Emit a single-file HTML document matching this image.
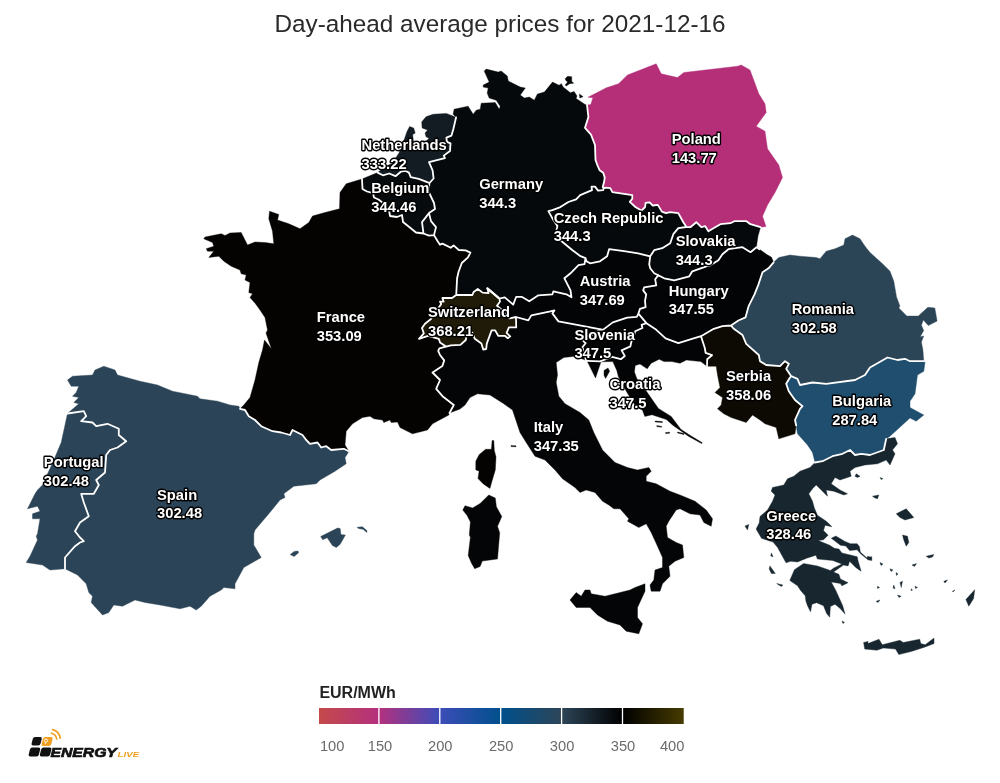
<!DOCTYPE html>
<html><head><meta charset="utf-8"><title>Day-ahead average prices</title>
<style>
html,body{margin:0;padding:0;background:#fff}
body{width:1000px;height:783px;position:relative;overflow:hidden;font-family:"Liberation Sans",sans-serif}
svg{position:absolute;left:0;top:0}
.lab text{font-family:"Liberation Sans",sans-serif;font-weight:700;font-size:14.75px;fill:#fff;stroke:#000;stroke-width:2.8px;paint-order:stroke;stroke-linejoin:round}
.title{will-change:transform;position:absolute;left:0;top:9.6px;width:1000px;text-align:center;font-size:24.3px;line-height:28px;color:#2a2a2a}
.tk text{font-family:"Liberation Sans",sans-serif;font-size:14.7px;fill:#6b6b6b}
</style></head><body>
<div class="title">Day-ahead average prices for 2021-12-16</div>
<svg width="1000" height="783" viewBox="0 0 1000 783">
<defs>
<linearGradient id="g1"><stop offset="0" stop-color="#c44a4a"/><stop offset="1" stop-color="#b4307e"/></linearGradient>
<linearGradient id="g2"><stop offset="0" stop-color="#b4307e"/><stop offset="1" stop-color="#3c4db8"/></linearGradient>
<linearGradient id="g3"><stop offset="0" stop-color="#3c4db8"/><stop offset="1" stop-color="#00508c"/></linearGradient>
<linearGradient id="g4"><stop offset="0" stop-color="#00508c"/><stop offset="1" stop-color="#2d4558"/></linearGradient>
<linearGradient id="g5"><stop offset="0" stop-color="#2d4558"/><stop offset="1" stop-color="#000"/></linearGradient>
<linearGradient id="g6"><stop offset="0" stop-color="#000"/><stop offset="1" stop-color="#463b00"/></linearGradient>
</defs>
<g id="map">
<path fill="#2b4457" stroke="#2b4457" stroke-width="0.4" d="M67.5 380L72.5 376.2L92.5 375L95 370L103.8 366.2L115 370L117.5 375L140 381.2L157.5 385L172.5 391.2L197.5 396.2L200 398.8L217.5 401.2L230 405L238.8 406.2L240 408.8L245 410L248.8 416.2L255 420L261.2 426.2L272.5 431.2L281.2 432.5L290 435L292.5 430L302.5 435L306.2 440L310 443.8L317.5 442.5L321.2 447.5L326.2 446.2L331.2 450L343.8 448.8L348.8 451.2L347.5 453.8L345 457.5L346.2 463.8L335 471.2L320 480L316.2 483.8L293.8 486.2L283.8 493.8L285 497.5L280 500L268.8 513.8L255 530L253.8 533.8L253.8 545L261.2 557.5L252.5 562.5L243.8 567.5L235 583.8L235 588.8L223.8 587.5L221.2 590L210 596.2L201.2 606.2L196.2 610L190 606.2L180 608.8L160 605L145 602.5L135 600L122.5 606.2L113.8 605L108.8 612.5L102.5 615L91.2 602.5L92.5 596.2L88.8 592.5L86.2 583.8L77.5 575L65 568.8L65 557.5L75 546.2L80 542.5L83.8 541.2L80 537.5L75 531.2L80 522.5L88.8 516.2L83.8 502.5L81.2 493.8L93.8 493.8L98.8 485L96.2 480L105 472.5L106.2 455L110 450L117.5 447.5L126.2 441.2L118.8 435L118.8 428.8L107.5 423.8L96.2 426.2L92.5 422.5L81.2 421.2L86.2 416.2L83.8 411.2L67.5 413.5L78.8 403.8L73.8 402.5L78.8 397.5L72.5 396.2L76.2 392.5L78.8 386.2L71.2 386.2L67.5 380ZM320.7 536.4L337.6 528L340.2 528.6L340.9 534.5L345.4 535.1L340.2 544.2L336.3 547.5L332.4 545.5L327.2 537.7L322.7 539.7ZM357.1 527.3L362.3 526.7L366.9 530.6L366.9 532.5L363 529.3L358.4 528.6ZM290.2 554.6L294.1 551.4L298 551L298.6 552.7L294.1 556.6Z"/>
<path fill="#2b4457" stroke="#2b4457" stroke-width="0.4" d="M67.5 413.5L83.8 411.2L86.2 416.2L81.2 421.2L92.5 422.5L96.2 426.2L107.5 423.8L118.8 428.8L118.8 435L126.2 441.2L117.5 447.5L110 450L106.2 455L105 472.5L96.2 480L98.8 485L93.8 493.8L81.2 493.8L83.8 502.5L88.8 516.2L80 522.5L75 531.2L80 537.5L83.8 541.2L80 542.5L75 546.2L65 557.5L65 568.8L50 570L42.5 565L26.2 562.5L30 556.2L37.5 540L36.2 536.2L37.5 533.8L40 518.8L32.5 518.8L32.5 513.8L40 511.2L37.5 506.2L27.5 508.8L28.8 506.2L35 493.8L37.5 490L42.5 485L53.8 460L61.2 442.5L65 425L67.5 413.5Z"/>
<path fill="#040302" stroke="#040302" stroke-width="0.4" d="M362 179L362.5 189L367 191.5L373 193.2L374 197.5L378.5 199.5L383 203L389 210L390 216L397 217L402 215L403 222L408 226L416 232.5L423.5 233.5L429 235.7L434 235.1L437.5 241L440 244.8L442.4 243.6L450.8 247.8L453.6 245.4L458.8 250L465.6 250.4L470.4 252.6L468 257.4L461.8 263L458.5 272L457.1 278.3L456.2 295L452 298L442.4 298L443.6 301.6L440 301.6L441.2 304L431 319L425 323.8L422 328L423.8 333.4L419 338.8L428 335.8L438.8 338.8L440 342.4L446 346.6L439.4 348.4L438.2 350.8L440 355L444.2 360.4L442.4 366L432.5 372.5L440 380L436.2 388.8L442.5 396.2L453.8 405L449.5 413L448.8 415L432.5 423.8L427.5 430L412.5 433.8L400 427.5L397.5 422L391.2 422.5L390 420L383.8 422.5L382.5 420L373.8 418.8L370 416.2L362.5 417.5L352.5 423.8L346.2 431.2L345 445L348.8 451.2L343.8 448.8L331.2 450L326.2 446.2L321.2 447.5L317.5 442.5L310 443.8L306.2 440L302.5 435L292.5 430L290 435L281.2 432.5L272.5 431.2L261.2 426.2L255 420L248.8 416.2L245 410L240 408.8L243.8 405L250 397.5L255 380L258.8 362.5L262.5 350L264.5 340L271.5 349L266 333L267.5 330L265 317.5L260 310L255.5 303.8L250 297.5L252.5 293.8L248.8 292.5L250 282.5L245 280L246.2 275L241.2 273.8L240 270L231.2 266.2L223.8 261.2L218.8 256.2L208.8 257.5L213.8 251.2L207.5 251.2L206.2 248.8L213.8 246.2L212.5 242.5L203.8 238.8L205 237L221.2 233.8L225 235.5L230 233L241.2 232.5L247.5 245L255 242L265 242.5L273.8 243.8L272.5 231.2L268.8 218.8L269.5 211.2L278.8 214.5L277.5 220L288.8 223.8L300 228.8L308.8 222.5L312.5 216L325 212.5L339.5 208.8L340 192.5L346.2 183.8L362 179ZM492.1 440.6L493.8 440.6L494.3 450.4L496 456.9L495.3 469.9L492.1 480.8L489.9 488.4L483.4 484L478 478.6L479.1 471L475.8 469.9L475.8 461.2L479.1 454.7L485.6 449.3L491.4 449.3Z"/>
<path fill="#080b0d" stroke="#080b0d" stroke-width="0.4" d="M362 179L377.6 172.6L382.9 175.3L389.2 173.5L395.5 176.2L400.8 171.7L405.3 170.8L408.9 172.6L410.7 177.1L418.7 178.9L425.9 181.6L429.5 183L428.5 191.4L434 203L435 209L429 213.1L422 222.1L423.5 233.5L416 232.5L408 226L403 222L402 215L397 217L390 216L389 210L383 203L378.5 199.5L374 197.5L373 193.2L367 191.5L362.5 189L362 179Z"/>
<path fill="#0a0e11" stroke="#0a0e11" stroke-width="0.4" d="M429 213.1L431 221.1L436 227.1L434 235.1L429 235.7L423.5 233.5L422 222.1L429 213.1Z"/>
<path fill="#131c23" stroke="#131c23" stroke-width="0.4" d="M456.1 117.3L453.5 128.5L451.5 135.6L446.4 137.7L446.9 141.8L450.5 143.3L450 151L443.8 155.6L444.9 158.1L429 162.2L432.6 170.4L433.6 178.5L429.5 183L425.9 181.6L418.7 178.9L410.7 177.1L408.9 172.6L405.3 170.8L400.8 171.7L395.5 176.2L389.2 173.5L382.9 175.3L377.6 172.6L386 166L392 163.5L399 153L404.5 138.7L407 131.6L409.6 126.5L413.7 128L415.2 133.1L412.7 134.6L413.5 142L425.5 142L429 138.2L426 136.7L425 133.1L427.5 130L422.1 128L421.7 121.9L426 116.7L433.1 114.2L446.4 113.4L456.1 117.3Z"/>
<path fill="#06090b" stroke="#06090b" stroke-width="0.4" d="M456.1 117.3L453.1 114.2L454.1 109.2L468.1 106.2L473.2 114.2L476.2 110.2L480.2 109.2L481.2 103.2L495.2 102.6L499.2 109.2L500.2 106.2L496.2 100.2L489.2 98.1L487.2 93.1L488.2 88.1L483.2 87.1L483.2 85.1L489.2 82.1L484.2 71.1L486.2 69.1L498.2 72.1L501.2 71.1L507.3 76.1L508.3 81.1L520.3 87.1L525.3 88.1L520.3 95.1L524.3 98.1L529.3 97.1L534.3 100.2L537.4 94.1L544.4 92.1L552.5 82.1L559 85.3L561.4 83.7L563.1 87L570.4 92.7L574.1 91.5L577 95.9L576.1 98.4L585.1 104.5L587 105L588.4 117L585 127.8L591 134.6L595 145L595.5 160L597.6 165.6L599.6 170.2L603.2 172.8L604.7 177.4L604.2 181.5L602.7 187.1L603.7 188.5L603.2 190.1L598.1 190.6L595 186.6L591.5 186.6L592 190.1L580.2 195.2L576.1 199.3L568.4 202L560.4 207.1L552.4 210.1L548.4 211.1L553.4 220.1L557.4 226.1L556.4 230.1L560.4 240.2L572.5 250.2L580.5 256.2L585.5 258.2L584.5 264.2L578.5 265.2L570.5 273.3L564.4 278.3L570.5 290.3L571.5 297.3L566.4 294.3L553.4 291.3L552.4 294.3L538.4 295.3L529.3 301.3L521.6 296.8L516.2 296.8L513.2 304.6L504.8 297.4L499.4 298.6L487.4 288.4L488.6 293.2L482.6 292.6L477.8 289L473.6 292L472.4 295L456.2 295L457.1 278.3L458.5 272L461.8 263L468 257.4L470.4 252.6L465.6 250.4L458.8 250L453.6 245.4L450.8 247.8L442.4 243.6L440 244.8L437.5 241L434 235.1L436 227.1L431 221.1L429 213.1L435 209L434 203L428.5 191.4L429.5 183L433.6 178.5L432.6 170.4L429 162.2L444.9 158.1L443.8 155.6L450 151L450.5 143.3L446.9 141.8L446.4 137.7L451.5 135.6L453.5 128.5L456.1 117.3ZM565.1 78.8L567.6 76.3L571.7 76.7L571.7 81.2L573.7 83.3L569.6 83.7L566.3 86.1L565.1 84.9L567.6 82.1L565.9 80.4ZM579.4 93.9L583.1 96.8L579.8 98Z"/>
<path fill="#b42e78" stroke="#b42e78" stroke-width="0.4" d="M760.5 227.2L766 226.5L762.5 216.2L767.5 205L775 192.5L782.5 177.5L778.8 165L767.5 148.8L765 131.2L756.2 126.2L766.2 112.5L765 103.8L758.8 93.8L750 70L741.2 65L737.5 66.2L683.8 72.5L677.5 77.5L661.2 73.8L656.2 63.8L627.5 75L618.6 83.7L606.4 87.8L588 97.2L592.9 97.7L590.8 104.5L587 105L588.4 117L585 127.8L591 134.6L595 145L595.5 160L597.6 165.6L599.6 170.2L603.2 172.8L604.7 177.4L604.2 181.5L602.7 187.1L603.7 188.5L605.2 187.6L610.3 188.1L612.4 192.2L632.3 195.2L632.3 198.8L629.8 201.9L635.4 207L641.5 210.6L645.1 207L645.6 202.9L649.7 202.4L652.7 205.5L657.8 204.9L661.9 211.6L666 213.1L670 212.1L678.3 213.1L683.3 222.2L686.5 227L690.3 227.2L696.3 222.2L701.3 227.2L705.3 226.2L708.4 231.2L713.4 228.2L720.4 224.2L730.4 223.2L734.4 221.2L746.5 221.2L750.5 224.2L760.5 227.2Z"/>
<path fill="#201b08" stroke="#201b08" stroke-width="0.4" d="M456.2 295L472.4 295L473.6 292L477.8 289L482.6 292.6L488.6 293.2L487.4 288.4L499.4 298.6L500 301.6L497 305.8L503 311L509.6 318.4L516 317L516.2 327.4L509 327.4L506.6 332.8L510.2 336.4L507.8 338.2L504.8 335.8L498.2 335.8L495.2 330.4L491.6 330.4L486.8 343.6L486.2 349L483.2 349.6L481.4 343.6L474.8 338.8L472.4 332.8L466.4 336.4L465.8 340L460.4 344.8L450.8 345.4L446 346.6L440 342.4L438.8 338.8L428 335.8L419 338.8L423.8 333.4L422 328L425 323.8L431 319L441.2 304L440 301.6L443.6 301.6L442.4 298L452 298L456.2 295Z"/>
<path fill="#030405" stroke="#030405" stroke-width="0.4" d="M499.4 298.6L504.8 297.4L513.2 304.6L516.2 296.8L521.6 296.8L529.3 301.3L538.4 295.3L552.4 294.3L553.4 291.3L566.4 294.3L571.5 297.3L570.5 290.3L564.4 278.3L570.5 273.3L578.5 265.2L584.5 264.2L585.5 258.2L586.5 261.2L590 263.3L600 261.3L607.1 256.3L609.1 249.2L624.1 251.2L638.1 253.3L650.2 256.3L649.2 264.3L650.2 268.3L654.2 273.3L658.2 275.3L655.2 279.3L656.2 285.3L644.2 287.3L643.2 290.4L646.2 294.4L645 301L645.6 307.2L640 308.8L638.4 313.6L636.8 316.8L627.2 317.6L612.8 322.4L603.2 329.6L600.8 329.3L574.5 324.4L558.4 321.4L552.4 313.4L554.4 310.4L550.4 311.4L531.3 315.4L528.3 320.4L516 317L509.6 318.4L503 311L497 305.8L500 301.6L499.4 298.6Z"/>
<path fill="#06090b" stroke="#06090b" stroke-width="0.4" d="M603.7 188.5L605.2 187.6L610.3 188.1L612.4 192.2L632.3 195.2L632.3 198.8L629.8 201.9L635.4 207L641.5 210.6L645.1 207L645.6 202.9L649.7 202.4L652.7 205.5L657.8 204.9L661.9 211.6L666 213.1L670 212.1L678.3 213.1L683.3 222.2L686.5 227L678.3 228.2L673.3 234.2L670.2 243.2L662.2 248.2L654.2 250.2L650.2 256.3L638.1 253.3L624.1 251.2L609.1 249.2L607.1 256.3L600 261.3L590 263.3L586.5 261.2L585.5 258.2L580.5 256.2L572.5 250.2L560.4 240.2L556.4 230.1L557.4 226.1L553.4 220.1L548.4 211.1L552.4 210.1L560.4 207.1L568.4 202L576.1 199.3L580.2 195.2L592 190.1L591.5 186.6L595 186.6L598.1 190.6L603.2 190.1L603.7 188.5Z"/>
<path fill="#06090b" stroke="#06090b" stroke-width="0.4" d="M686.5 227L690.3 227.2L696.3 222.2L701.3 227.2L705.3 226.2L708.4 231.2L713.4 228.2L720.4 224.2L730.4 223.2L734.4 221.2L746.5 221.2L750.5 224.2L760.5 227.2L758 236L756.5 246.2L759.5 249.2L756.5 247.2L750.5 252.2L742.5 247.2L728.4 249.2L722.4 254.3L718.4 260.3L710.4 265.3L706.3 266.3L692.3 271.3L689.3 276.3L674.3 280.3L664.2 278.3L658.2 275.3L654.2 273.3L650.2 268.3L649.2 264.3L650.2 256.3L654.2 250.2L662.2 248.2L670.2 243.2L673.3 234.2L678.3 228.2L686.5 227Z"/>
<path fill="#030405" stroke="#030405" stroke-width="0.4" d="M658.2 275.3L664.2 278.3L674.3 280.3L689.3 276.3L692.3 271.3L706.3 266.3L710.4 265.3L718.4 260.3L722.4 254.3L728.4 249.2L742.5 247.2L750.5 252.2L756.5 247.2L759.5 249.2L766.5 254.3L771.5 257.3L773.6 262.3L768.5 268.3L762.5 272.3L758.5 284.3L754.5 294.4L748.5 306.4L745.5 317.4L738.4 320.5L731 325.5L722.5 326.2L713.8 328.8L701 336.2L691.2 339.2L678.4 343.2L665.6 338.4L656 329.6L646.4 323.2L638.4 313.6L640 308.8L645.6 307.2L645 301L646.2 294.4L643.2 290.4L644.2 287.3L656.2 285.3L655.2 279.3L658.2 275.3Z"/>
<path fill="#030405" stroke="#030405" stroke-width="0.4" d="M600.8 329.3L603.2 329.6L612.8 322.4L627.2 317.6L636.8 316.8L638.4 313.6L646.4 323.2L641.6 324.8L642.4 328L635.2 331.2L634.4 334.4L631.2 342.4L630.4 346.4L621.6 350.4L624.8 356L620.8 359.2L612 356.8L600 361.3L587 360.8L586 360.3L584 352.8L582.4 347.2L585.6 343.2L583.2 340.8L592 335L600.8 329.3Z"/>
<path fill="#030405" stroke="#030405" stroke-width="0.4" d="M646.4 323.2L656 329.6L665.6 338.4L678.4 343.2L691.2 339.2L701 336.2L704.8 348L705.6 352.8L712 355.2L707.2 359.2L707 366.3L700.8 361.6L686.4 360L680 363.2L672 361.6L664 361.6L659.2 359.2L651.2 363.2L647.2 368.8L640 364L635.2 365.6L634.4 372L636.8 378.4L646.4 391.2L658.4 408.4L671.2 416.4L680.8 429.2L690.4 435.6L702.4 442.8L701.6 443.6L688.8 436.4L672.8 425.2L666.4 419.6L652 414.8L644.8 416.4L642.4 410L636 406.8L627.2 392.8L618.4 376.8L616.8 370.4L612.8 361.6L601 361.8L595.5 377.9L587 360.8L600 361.3L612 356.8L620.8 359.2L624.8 356L621.6 350.4L630.4 346.4L631.2 342.4L634.4 334.4L635.2 331.2L642.4 328L641.6 324.8L646.4 323.2ZM604 370.4L608 368L609.6 371.2L605.6 378.4L604 375.2ZM655.2 421L662.4 421.6L662.4 422.6L655.2 422ZM656.8 425.6L661.6 426.4L661.6 427.2L656.8 426.6ZM665.6 432.6L669.6 432.2L669.6 433.2L665.6 433.6ZM677.6 432L684 433.6L684 434.6L677.6 433Z"/>
<path fill="#040506" stroke="#040506" stroke-width="0.4" d="M449.5 413L460 409L465 405L470 397.5L477.5 393.8L490 395L503.8 403.8L512.5 410L515 417.5L520 432.5L526.2 442.5L535 456.2L545 460L555 470L562.5 478.8L575 487.5L580 492.5L586.2 490L595 492.5L602.5 501.2L608.8 505L613.8 508.8L620 508.8L628.8 518.8L627.5 521.2L638.8 527.5L646.2 523.8L651.2 532.5L657.5 546.2L662.5 557.5L662.5 567.5L655 570L653.8 580L650 585L651.2 591.2L660 591.2L662.5 583.8L670 576.2L668.8 566.2L675 561.2L683.8 557.5L682.5 545L676.2 542.5L667.5 537.5L666.2 526.2L668.8 521.2L676.2 510L680 508.8L690 513.8L700 515L703.8 522.5L711.2 526.2L712.5 518.8L706.2 510L695 501.2L680 495L670 491.2L656.2 483.8L646.2 481.2L646.2 476.2L651.2 471.2L648.8 467.5L637.5 470L627.5 467.5L615 462.5L602.5 450L593.8 432.5L588.8 420L580 412.5L565 403.8L558.8 396.2L556.2 382.5L557.5 375L556.2 362.5L563.8 357.5L575 356.2L586 360.3L584 352.8L582.4 347.2L585.6 343.2L583.2 340.8L592 335L600.8 329.3L574.5 324.4L558.4 321.4L552.4 313.4L554.4 310.4L550.4 311.4L531.3 315.4L528.3 320.4L516 317L516.2 327.4L509 327.4L506.6 332.8L510.2 336.4L507.8 338.2L504.8 335.8L498.2 335.8L495.2 330.4L491.6 330.4L486.8 343.6L486.2 349L483.2 349.6L481.4 343.6L474.8 338.8L472.4 332.8L466.4 336.4L465.8 340L460.4 344.8L450.8 345.4L446 346.6L439.4 348.4L438.2 350.8L440 355L444.2 360.4L442.4 366L432.5 372.5L440 380L436.2 388.8L442.5 396.2L453.8 405L449.5 413ZM488.8 494.9L495.3 498.1L496.4 506.8L501.8 516.6L497.5 526.3L499.7 532.8L497.5 558.9L482.3 561.1L480.1 566.5L474.7 568.7L471.5 563.2L468.2 555.6L470.4 537.2L469.3 535L470.4 522L467.1 515.5L462.8 510.1L465 505.7L472.6 507.9L480.1 503.6ZM570 600L576.2 592.5L581.2 596.2L585 590L590 590L591.2 593.8L605 596.2L615 593.8L630 590L635 587.5L645 583.8L645 591.2L637.5 607.5L637.5 617.5L642.5 623.8L638.8 633.8L626.2 631.2L620 625L607.5 621.2L597.5 615L590 607.5L576.2 607.5ZM511 445.6L516 445.8L516 446.8L511 446.6Z"/>
<path fill="#0c0a03" stroke="#0c0a03" stroke-width="0.4" d="M701 336.2L713.8 328.8L722.5 326.2L731 325.5L733.8 328.8L742.5 335L746.2 343.8L758.8 355L760 361.2L766.2 365L780 366.2L785 361.2L788.8 363.8L786.2 368.8L791.2 376.2L790 377.5L786.2 383.8L788.8 391.2L795 400L802.5 406.2L800 408.8L795 420L796.2 425.5L795 433.8L778.8 438.8L776.2 427.5L765 423.8L760 420L752.5 415L746.2 422.5L731.2 417.5L723.8 413.8L717.5 408.8L721.2 405L722.5 397.5L715 392.5L720 387.5L717.5 375L716.2 366.2L707 366.3L707.2 359.2L712 355.2L705.6 352.8L704.8 348L701 336.2Z"/>
<path fill="#2b4456" stroke="#2b4456" stroke-width="0.4" d="M923.8 361.2L922.9 350L921.4 342.1L923.7 336L920.2 336.7L923.7 330.6L921.4 325.2L923.3 319.9L928.3 325.6L937.1 321L934.8 308L927.9 307.2L918.3 316.1L906.8 316.1L898.8 308L899.9 306.1L896.5 296.9L893.8 281.2L890 271.2L882.5 263.8L870 252.5L865 246.2L860 238.8L852.5 235L845 238.8L843.8 245L835 248.8L826.2 251.2L820 258.8L816.2 257.5L800 256.2L790 255L778.8 257.5L773.6 262.3L768.5 268.3L762.5 272.3L758.5 284.3L754.5 294.4L748.5 306.4L745.5 317.4L738.4 320.5L731 325.5L733.8 328.8L742.5 335L746.2 343.8L758.8 355L760 361.2L766.2 365L780 366.2L785 361.2L788.8 363.8L786.2 368.8L791.2 376.2L797.5 378.8L800 385L812.5 382.5L826.2 383.8L855 380L865 375L870 367.5L878.8 362.5L887.5 357.5L897.5 360L905 358.8L910 361.2L923.8 361.2Z"/>
<path fill="#204e6e" stroke="#204e6e" stroke-width="0.4" d="M791.2 376.2L797.5 378.8L800 385L812.5 382.5L826.2 383.8L855 380L865 375L870 367.5L878.8 362.5L887.5 357.5L897.5 360L905 358.8L910 361.2L923.8 361.2L925 362.5L923.8 371.2L917.5 375L915 393.8L910 401.2L910 407.5L923.8 415L916.2 421.2L910 418L890 436.2L886.2 438.8L883.8 450L870 455L861.2 453.8L855 455L850 450L842.5 453.8L832.5 456.2L822.5 461.2L815 462.5L812.5 452.5L807.5 445L797.5 433.8L796.2 425.5L795 420L800 408.8L802.5 406.2L795 400L788.8 391.2L786.2 383.8L790 377.5L791.2 376.2Z"/>
<path fill="#17262f" stroke="#17262f" stroke-width="0.4" d="M886.2 438.8L895 437.5L897.5 443.8L892.5 450L895 453.8L890 465L886.2 460L877.5 463.8L865 465L855 467.5L850 471.2L851.2 476.2L840 480L835 477.5L831.2 483.8L840 490L847.5 493.8L843.8 495L833.8 491.2L826.2 490L827.5 496.2L816.2 485L812.5 488.8L808.8 493.8L812.5 501.2L814.3 507.7L817.4 515.3L826.6 521.4L832 526.8L825.1 525.3L823.5 530.6L828.1 535.2L823.5 539.8L818.2 540.6L829.7 545.2L834.3 548.3L838.9 549L841.9 552.9L848.1 554.4L857.2 556.7L858 560.5L861.1 571.2L855.7 567.4L849.6 561.3L848.1 565.9L843.5 565.1L833.5 572L838.9 574.3L840.4 578.9L848.1 582.7L841.9 585.8L840.4 583.5L831.2 582L835.8 590.4L842.7 605.7L845 614.1L840.4 608.8L835 604.2L830.4 606.5L829.7 617.2L826.6 613.4L823.5 605.7L816.6 602.7L812 604.2L810.5 611.8L807.5 605.7L805.9 601.1L805.2 595.8L800.6 590.4L797.5 585.8L789.8 580.4L794.4 569.7L803.6 563.6L817.4 565.9L830.4 570.5L833.5 568.2L841.9 564L832.7 560.5L817.4 559L815.9 555.2L806.7 558.2L797.5 562L790.6 561.3L786 562.8L777.6 547.5L773 542.1L761.5 538.3L756.1 529.1L759.2 523L760 516.5L767.5 510L772.5 501.2L775 495L771.2 491.2L772.5 487.5L783.8 485L787.5 478.8L793.8 476.2L800 471.2L810 467.5L815 462.5L822.5 461.2L832.5 456.2L842.5 453.8L850 450L855 455L861.2 453.8L870 455L883.8 450L886.2 438.8ZM831.2 538.3L835.8 536L845 541.4L850.4 543.7L857.2 543.7L859.5 546.7L860.3 552.1L866.4 557.5L871.8 556.7L871.8 560.5L868 559.8L860.3 553.6L857.2 549.8L849.6 550.6L845.8 546L840.4 545.2L834.3 540.6ZM863.6 642.5L868 641.4L868 643.6L879 639.2L882.3 644.7L899.9 640.3L903.2 642.5L919.7 639.2L920.8 643.6L925.2 644.7L934 638.1L934 643.6L925.2 646.9L912 651.3L898.8 654.6L895.5 649.1L883.4 648L876.8 650.2L864.7 649.1ZM965.9 599.6L974.7 589.7L973.6 598.5L968.8 606.2ZM896.2 513.8L906.2 508.8L913.8 517.5L905 520L900 517.5ZM902.5 535L907.5 536.2L908.8 542.5L906.2 546.2L903.8 540ZM926.2 556.2L933.8 554.5L932.5 557L928.8 558ZM912 565L916.5 563.6L914.5 566.4ZM856.2 473.8L860 476.2L857.5 477.5L855 476.2ZM880 477.5L883 478.7L881.2 479.6ZM872.5 496.2L878.8 495L877.5 498.8L875 498ZM867.5 556.2L871.2 557.5L870 560L868 559.5ZM745 526L748.8 524.5L747.5 530ZM769.9 565.9L775.3 573.5L771.4 573.5L769.2 568.9ZM771.4 553L773 556.7L770.7 556ZM776.8 583.5L782.9 585L781.4 586.6L777.6 584.3ZM842 621L844.5 622.3L843 623.6ZM880 562.5L883 564L881 565.5ZM890 568.8L893 570L891 571.5ZM896 572.5L898 574L896.5 575.5ZM900 582.5L902.5 581.2L901.2 587.5ZM893.8 585L895 588.8L893 588ZM877.5 586.2L879.5 587.5L877.5 588.5ZM876.2 601.2L880 600L878 602.5ZM897.5 595L901.2 596.2L899 597.5ZM915 586.2L917.5 587.5L915.5 588.5ZM911.2 588.8L912.5 590L911 590.5ZM943.8 581.2L947.5 580L945 583ZM952.5 591.2L955 590L953 592Z"/>
<path fill="none" stroke="#fff" stroke-width="1.8" stroke-linejoin="round" stroke-linecap="round" d="M362 179L362.5 189L367 191.5L373 193.2L374 197.5L378.5 199.5L383 203L389 210L390 216L397 217L402 215L403 222L408 226L416 232.5L423.5 233.5M423.5 233.5L429 235.7L434 235.1M434 235.1L437.5 241L440 244.8L442.4 243.6L450.8 247.8L453.6 245.4L458.8 250L465.6 250.4L470.4 252.6L468 257.4L461.8 263L458.5 272L457.1 278.3L456.2 295M456.2 295L452 298L442.4 298L443.6 301.6L440 301.6L441.2 304L431 319L425 323.8L422 328L423.8 333.4L419 338.8L428 335.8L438.8 338.8L440 342.4L446 346.6M446 346.6L439.4 348.4L438.2 350.8L440 355L444.2 360.4L442.4 366L432.5 372.5L440 380L436.2 388.8L442.5 396.2L453.8 405L449.5 413M348.8 451.2L343.8 448.8L331.2 450L326.2 446.2L321.2 447.5L317.5 442.5L310 443.8L306.2 440L302.5 435L292.5 430L290 435L281.2 432.5L272.5 431.2L261.2 426.2L255 420L248.8 416.2L245 410L240 408.8M377.6 172.6L382.9 175.3L389.2 173.5L395.5 176.2L400.8 171.7L405.3 170.8L408.9 172.6L410.7 177.1L418.7 178.9L425.9 181.6L429.5 183M429.5 183L428.5 191.4L434 203L435 209L429 213.1M429 213.1L422 222.1L423.5 233.5M429 213.1L431 221.1L436 227.1L434 235.1M456.1 117.3L453.5 128.5L451.5 135.6L446.4 137.7L446.9 141.8L450.5 143.3L450 151L443.8 155.6L444.9 158.1L429 162.2L432.6 170.4L433.6 178.5L429.5 183M587 105L588.4 117L585 127.8L591 134.6L595 145L595.5 160L597.6 165.6L599.6 170.2L603.2 172.8L604.7 177.4L604.2 181.5L602.7 187.1L603.7 188.5M603.7 188.5L603.2 190.1L598.1 190.6L595 186.6L591.5 186.6L592 190.1L580.2 195.2L576.1 199.3L568.4 202L560.4 207.1L552.4 210.1L548.4 211.1L553.4 220.1L557.4 226.1L556.4 230.1L560.4 240.2L572.5 250.2L580.5 256.2L585.5 258.2M603.7 188.5L605.2 187.6L610.3 188.1L612.4 192.2L632.3 195.2L632.3 198.8L629.8 201.9L635.4 207L641.5 210.6L645.1 207L645.6 202.9L649.7 202.4L652.7 205.5L657.8 204.9L661.9 211.6L666 213.1L670 212.1L678.3 213.1L683.3 222.2L686.5 227M686.5 227L690.3 227.2L696.3 222.2L701.3 227.2L705.3 226.2L708.4 231.2L713.4 228.2L720.4 224.2L730.4 223.2L734.4 221.2L746.5 221.2L750.5 224.2L760.5 227.2M686.5 227L678.3 228.2L673.3 234.2L670.2 243.2L662.2 248.2L654.2 250.2L650.2 256.3M650.2 256.3L638.1 253.3L624.1 251.2L609.1 249.2L607.1 256.3L600 261.3L590 263.3L586.5 261.2L585.5 258.2M650.2 256.3L649.2 264.3L650.2 268.3L654.2 273.3L658.2 275.3M658.2 275.3L664.2 278.3L674.3 280.3L689.3 276.3L692.3 271.3L706.3 266.3L710.4 265.3L718.4 260.3L722.4 254.3L728.4 249.2L742.5 247.2L750.5 252.2L756.5 247.2L759.5 249.2M658.2 275.3L655.2 279.3L656.2 285.3L644.2 287.3L643.2 290.4L646.2 294.4L645 301L645.6 307.2L640 308.8L638.4 313.6M638.4 313.6L636.8 316.8L627.2 317.6L612.8 322.4L603.2 329.6L600.8 329.3M600.8 329.3L574.5 324.4L558.4 321.4L552.4 313.4L554.4 310.4L550.4 311.4L531.3 315.4L528.3 320.4L516 317M516 317L509.6 318.4L503 311L497 305.8L500 301.6L499.4 298.6M499.4 298.6L504.8 297.4L513.2 304.6L516.2 296.8L521.6 296.8L529.3 301.3L538.4 295.3L552.4 294.3L553.4 291.3L566.4 294.3L571.5 297.3L570.5 290.3L564.4 278.3L570.5 273.3L578.5 265.2L584.5 264.2L585.5 258.2M456.2 295L472.4 295L473.6 292L477.8 289L482.6 292.6L488.6 293.2L487.4 288.4L499.4 298.6M516 317L516.2 327.4L509 327.4L506.6 332.8L510.2 336.4L507.8 338.2L504.8 335.8L498.2 335.8L495.2 330.4L491.6 330.4L486.8 343.6L486.2 349L483.2 349.6L481.4 343.6L474.8 338.8L472.4 332.8L466.4 336.4L465.8 340L460.4 344.8L450.8 345.4L446 346.6M586 360.3L584 352.8L582.4 347.2L585.6 343.2L583.2 340.8L592 335L600.8 329.3M638.4 313.6L646.4 323.2M646.4 323.2L641.6 324.8L642.4 328L635.2 331.2L634.4 334.4L631.2 342.4L630.4 346.4L621.6 350.4L624.8 356L620.8 359.2L612 356.8L600 361.3L587 360.8M646.4 323.2L656 329.6L665.6 338.4L678.4 343.2L691.2 339.2L701 336.2M701 336.2L713.8 328.8L722.5 326.2L731 325.5M731 325.5L738.4 320.5L745.5 317.4L748.5 306.4L754.5 294.4L758.5 284.3L762.5 272.3L768.5 268.3L773.6 262.3M701 336.2L704.8 348L705.6 352.8L712 355.2L707.2 359.2L707 366.3M796.2 425.5L795 420L800 408.8L802.5 406.2L795 400L788.8 391.2L786.2 383.8L790 377.5L791.2 376.2M791.2 376.2L786.2 368.8L788.8 363.8L785 361.2L780 366.2L766.2 365L760 361.2L758.8 355L746.2 343.8L742.5 335L733.8 328.8L731 325.5M791.2 376.2L797.5 378.8L800 385L812.5 382.5L826.2 383.8L855 380L865 375L870 367.5L878.8 362.5L887.5 357.5L897.5 360L905 358.8L910 361.2L923.8 361.2M886.2 438.8L883.8 450L870 455L861.2 453.8L855 455L850 450L842.5 453.8L832.5 456.2L822.5 461.2L815 462.5M67.5 413.5L83.8 411.2L86.2 416.2L81.2 421.2L92.5 422.5L96.2 426.2L107.5 423.8L118.8 428.8L118.8 435L126.2 441.2L117.5 447.5L110 450L106.2 455L105 472.5L96.2 480L98.8 485L93.8 493.8L81.2 493.8L83.8 502.5L88.8 516.2L80 522.5L75 531.2L80 537.5L83.8 541.2L80 542.5L75 546.2L65 557.5L65 568.8"/>
<path fill="none" stroke="#fff" stroke-width="2.2" stroke-linecap="round" d="M487.4 288.4L498.6 297.8"/>
</g>
<g class="lab" style="will-change:transform"><text x="316.7" y="322.1">France</text><text x="316.7" y="340.9">353.09</text><text x="371.3" y="192.7">Belgium</text><text x="371.3" y="211.5">344.46</text><text x="361.5" y="149.8">Netherlands</text><text x="361.5" y="168.6">333.22</text><text x="479.2" y="189.1">Germany</text><text x="479.2" y="207.9">344.3</text><text x="553.7" y="222.6">Czech Republic</text><text x="553.7" y="241.4">344.3</text><text x="671.7" y="144.1">Poland</text><text x="671.7" y="162.9">143.77</text><text x="675.7" y="245.9">Slovakia</text><text x="675.7" y="264.7">344.3</text><text x="668.8" y="295.6">Hungary</text><text x="668.8" y="314.4">347.55</text><text x="579.7" y="285.9">Austria</text><text x="579.7" y="304.7">347.69</text><text x="428" y="317.3">Switzerland</text><text x="428" y="336.1">368.21</text><text x="574.4" y="339.6">Slovenia</text><text x="574.4" y="358.4">347.5</text><text x="609.6" y="388.9">Croatia</text><text x="609.6" y="407.7">347.5</text><text x="533.7" y="431.9">Italy</text><text x="533.7" y="450.7">347.35</text><text x="726" y="381.4">Serbia</text><text x="726" y="400.2">358.06</text><text x="791.7" y="313.9">Romania</text><text x="791.7" y="332.7">302.58</text><text x="832.2" y="406.4">Bulgaria</text><text x="832.2" y="425.2">287.84</text><text x="766.2" y="520.6">Greece</text><text x="766.2" y="539.4">328.46</text><text x="43.8" y="467.1">Portugal</text><text x="43.8" y="485.9">302.48</text><text x="157" y="499.6">Spain</text><text x="157" y="518.4">302.48</text></g>
<g id="legend" style="will-change:transform">
<text x="319.4" y="697.8" font-family="Liberation Sans, sans-serif" font-weight="700" font-size="16" fill="#222">EUR/MWh</text>
<rect x="319" y="708" width="59.9" height="16" fill="url(#g1)"/>
<rect x="378.9" y="708" width="60.9" height="16" fill="url(#g2)"/>
<rect x="439.8" y="708" width="60.9" height="16" fill="url(#g3)"/>
<rect x="500.7" y="708" width="60.9" height="16" fill="url(#g4)"/>
<rect x="561.6" y="708" width="60.9" height="16" fill="url(#g5)"/>
<rect x="622.5" y="708" width="61.2" height="16" fill="url(#g6)"/>
<path d="M378.9 708v16M439.8 708v16M500.7 708v16M561.6 708v16M622.5 708v16" stroke="#fff" stroke-width="1.3"/>
<g class="tk"><text x="319.9" y="750.8">100</text><text x="380" y="750.8" text-anchor="middle">150</text><text x="440.3" y="750.8" text-anchor="middle">200</text><text x="501.2" y="750.8" text-anchor="middle">250</text><text x="562.1" y="750.8" text-anchor="middle">300</text><text x="623" y="750.8" text-anchor="middle">350</text><text x="684.4" y="750.8" text-anchor="end">400</text></g>
</g>
<g id="logo" style="will-change:transform">
<g transform="skewX(-14)">
<rect x="217" y="737" width="9" height="8.6" rx="2" fill="#111"/>
<rect x="227.2" y="737" width="9.6" height="9" rx="2" fill="#f0a020"/>
<rect x="216.8" y="747.4" width="10.2" height="9" rx="2" fill="#111"/>
<rect x="228" y="747.4" width="10.2" height="9" rx="2" fill="#111"/>
</g>
<circle cx="46" cy="740.6" r="1.6" fill="none" stroke="#fff" stroke-width="0.9"/><path d="M45.6 742.6l-.4 1.6" stroke="#fff" stroke-width="0.9"/><path d="M51.5 733.2a7 7 0 0 1 5.2 5.8M52.6 729.6a10.5 10.5 0 0 1 7.6 8.6" fill="none" stroke="#f0a020" stroke-width="1.7" stroke-linecap="round"/>
<text x="50.4" y="756.5" font-family="Liberation Sans, sans-serif" font-weight="700" font-style="italic" font-size="13.6" fill="#111" stroke="#111" stroke-width="0.7" textLength="66.5" lengthAdjust="spacingAndGlyphs">ENERGY</text>
<text x="117.6" y="756.6" font-family="Liberation Sans, sans-serif" font-weight="700" font-style="italic" font-size="7.6" fill="#f0a020" textLength="21.5" lengthAdjust="spacingAndGlyphs">LIVE</text>
</g>
</svg>
</body></html>
